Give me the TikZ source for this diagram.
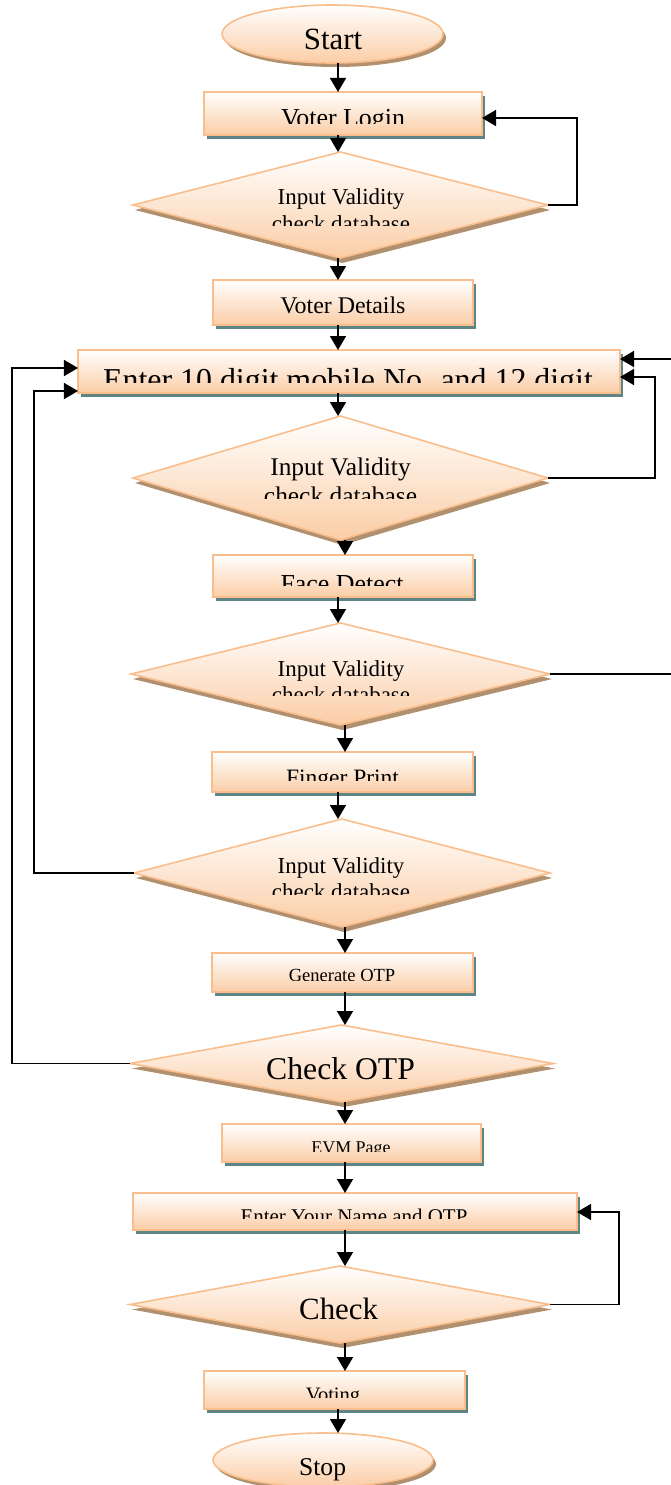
\documentclass[tikz,border=0pt]{standalone}
\usepackage{fontspec}
\setmainfont{Liberation Serif}
\usetikzlibrary{shapes.geometric,arrows.meta,shadows}
\definecolor{peachline}{HTML}{F9BE8C}
\definecolor{peachfill}{HTML}{FBCDA6}
\definecolor{boxshadow}{HTML}{5E8585}
\definecolor{dshadow}{HTML}{B0906E}
\newcommand\fsz[1]{\fontsize{#1}{#1}\selectfont}
\tikzset{
  shapebase/.style={draw=peachline, line width=1.6bp, top color=white, bottom color=peachfill, inner sep=0pt, outer sep=0pt},
  procbox/.style={shapebase, rectangle, general shadow={shadow xshift=3bp, shadow yshift=-4bp, fill=boxshadow}},
  decision/.style={shapebase, diamond, general shadow={shadow xshift=2bp, shadow yshift=-5bp, fill=dshadow}},
  terminal/.style={shapebase, ellipse, general shadow={shadow xshift=3bp, shadow yshift=-4bp, fill=dshadow}},
  lbl/.style={anchor=base, inner sep=0pt, outer sep=0pt, text=black},
  arr/.style={line width=1.6bp, -{Triangle[width=16bp,length=14bp]}},
}
\begin{document}
\begin{tikzpicture}[x=1bp,y=-1bp]
\path[fill=white,use as bounding box] (0,0) rectangle (671,1485);

% shapes
\node[terminal, minimum width=221bp, minimum height=58bp] (start) at (332.5,34) {};
\node[procbox, minimum width=278bp, minimum height=43bp] (vl) at (343,113.5) {};
\node[decision, minimum width=415bp, minimum height=106bp] (d1) at (340.5,205) {};
\node[procbox, minimum width=260bp, minimum height=45bp] (vd) at (343,302.5) {};
\node[procbox, minimum width=542bp, minimum height=43bp] (mob) at (349,371.5) {};
\node[decision, minimum width=415bp, minimum height=124bp] (d2) at (340.5,478) {};
\node[procbox, minimum width=260bp, minimum height=42bp] (face) at (343,576) {};
\node[decision, minimum width=419bp, minimum height=102bp] (d3) at (340.5,674) {};
\node[procbox, minimum width=261bp, minimum height=40bp] (fp) at (342.5,772) {};
\node[decision, minimum width=416bp, minimum height=108bp] (d4) at (342,873) {};
\node[procbox, minimum width=261bp, minimum height=39bp] (otp) at (342.5,972.5) {};
\node[decision, minimum width=423bp, minimum height=77bp] (cotp) at (341.5,1063.5) {};
\node[procbox, minimum width=259bp, minimum height=38bp] (evm) at (351.5,1143) {};
\node[procbox, minimum width=444bp, minimum height=37bp] (name) at (355,1211.5) {};
\node[decision, minimum width=420bp, minimum height=77bp] (chk) at (340,1304.5) {};
\node[procbox, minimum width=261bp, minimum height=38bp] (vote) at (334.5,1390) {};
\node[terminal, minimum width=220bp, minimum height=54bp] (stop) at (323,1460) {};

% labels
\node[lbl, font=\fsz{31}] (tstart) at (333,50) {Start};
\begin{scope}\clip (0,0) rectangle (671,124);
\node[lbl, font=\fsz{26}] (tvl) at (343,127) {Voter Login};
\end{scope}
\node[lbl, font=\fsz{23}] (td1a) at (341,205) {Input Validity};
\begin{scope}\clip (0,210) rectangle (671,225);
\node[lbl, font=\fsz{23}] (td1b) at (341,231) {check database};
\end{scope}
\node[lbl, font=\fsz{24}] (tvd) at (343,313) {Voter Details};
\begin{scope}\clip (0,352) rectangle (671,382);
\node[lbl, font=\fsz{32}] (tmob) at (348,390) {Enter 10 digit mobile No. and 12 digit};
\end{scope}
\node[lbl, font=\fsz{25.5}] (td2a) at (340.5,475) {Input Validity};
\begin{scope}\clip (0,480) rectangle (671,498);
\node[lbl, font=\fsz{25.5}] (td2b) at (340.5,504) {check database};
\end{scope}
\begin{scope}\clip (0,557) rectangle (671,585);
\node[lbl, font=\fsz{26}] (tface) at (342,592) {Face Detect};
\end{scope}
\node[lbl, font=\fsz{23}] (td3a) at (341,676) {Input Validity};
\begin{scope}\clip (0,680) rectangle (671,695);
\node[lbl, font=\fsz{23}] (td3b) at (341,702) {check database};
\end{scope}
\begin{scope}\clip (0,754) rectangle (671,780);
\node[lbl, font=\fsz{23.6}] (tfp) at (342.5,785) {Finger Print};
\end{scope}
\node[lbl, font=\fsz{23}] (td4a) at (341,873) {Input Validity};
\begin{scope}\clip (0,878) rectangle (671,894);
\node[lbl, font=\fsz{23}] (td4b) at (341,899) {check database};
\end{scope}
\begin{scope}\clip (0,955) rectangle (671,980);
\node[lbl, font=\fsz{18.6}] (totp) at (342,981) {Generate OTP};
\end{scope}
\node[lbl, font=\fsz{31.8}] (tcotp) at (340.6,1079) {Check OTP};
\begin{scope}\clip (0,1126) rectangle (671,1151);
\node[lbl, font=\fsz{18}] (tevm) at (351,1153) {EVM Page};
\end{scope}
\begin{scope}\clip (0,1195) rectangle (671,1218);
\node[lbl, font=\fsz{21}] (tname) at (354,1223) {Enter Your Name and OTP};
\end{scope}
\node[lbl, font=\fsz{31}] (tchk) at (338.6,1319) {Check};
\begin{scope}\clip (0,1373) rectangle (671,1397);
\node[lbl, font=\fsz{20.6}] (tvote) at (333,1401) {Voting};
\end{scope}
\node[lbl, font=\fsz{25.7}] (tstop) at (322.6,1475) {Stop};

% main flow arrows
\coordinate (xa) at (338,0);
\coordinate (xb) at (345,0);
\draw[arr] (start.south -| xa) -- (vl.north -| xa);
\draw[arr] (vl.south -| xa) -- (d1.north -| xa);
\draw[arr] (d1.south -| xa) -- (vd.north -| xa);
\draw[arr] (vd.south -| xa) -- (mob.north -| xa);
\draw[arr] (mob.south -| xa) -- (d2.north -| xa);
\draw[arr] (d2.south -| xb) -- (face.north -| xb);
\draw[arr] (face.south -| xa) -- (d3.north -| xa);
\draw[arr] (d3.south -| xb) -- (fp.north -| xb);
\draw[arr] (fp.south -| xa) -- (d4.north -| xa);
\draw[arr] (d4.south -| xb) -- (otp.north -| xb);
\draw[arr] (otp.south -| xb) -- (cotp.north -| xb);
\draw[arr] (cotp.south -| xb) -- (evm.north -| xb);
\draw[arr] (evm.south -| xb) -- (name.north -| xb);
\draw[arr] (name.south -| xb) -- (chk.north -| xb);
\draw[arr] (chk.south -| xb) -- (vote.north -| xb);
\draw[arr] (vote.south -| xa) -- (stop.north -| xa);

% feedback loops
\coordinate (r1) at (577,118);
\draw[arr] (d1.east) -| (r1) -- (r1 -| vl.east);
\coordinate (r2) at (655,377);
\draw[arr] (d2.east) -| (r2) -- (r2 -| mob.east);
\coordinate (r3) at (690,359);
\draw[arr] (d3.east) -| (r3) -- (r3 -| mob.east);
\coordinate (l1) at (34,391);
\draw[arr] (d4.west) -| (l1) -- (l1 -| mob.west);
\coordinate (l2) at (12,368);
\draw[arr] (cotp.west) -| (l2) -- (l2 -| mob.west);
\coordinate (r4) at (619,1212);
\draw[arr] (chk.east) -| (r4) -- (r4 -| name.east);
\end{tikzpicture}
\end{document}
